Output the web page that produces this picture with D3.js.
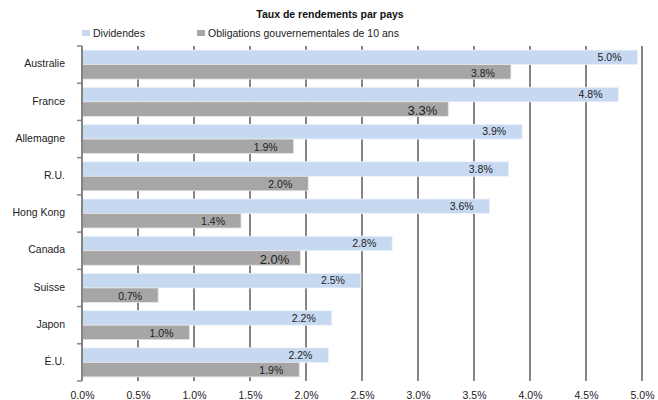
<!DOCTYPE html>
<html>
<head>
<meta charset="utf-8">
<script src="https://cdn.jsdelivr.net/npm/d3@7"></script>
<style>
  html, body { margin: 0; padding: 0; background: #fff; }
  svg { display: block; font-family: "Liberation Sans", Arial, sans-serif; }
</style>
</head>
<body>
<svg id="chart" width="658" height="400"></svg>
<script>
// Rendements (%) par pays
const countries = ["Australie", "France", "Allemagne", "R.U.", "Hong Kong", "Canada", "Suisse", "Japon", "É.U."];
const dividends = [4.96, 4.79, 3.93, 3.81, 3.64, 2.77, 2.49, 2.23, 2.20];
const bonds10y  = [3.83, 3.27, 1.89, 2.02, 1.42, 1.95, 0.68, 0.96, 1.94];
const dividendLabels = ["5.0%", "4.8%", "3.9%", "3.8%", "3.6%", "2.8%", "2.5%", "2.2%", "2.2%"];
const bondLabels     = ["3.8%", "3.3%", "1.9%", "2.0%", "1.4%", "2.0%", "0.7%", "1.0%", "1.9%"];
// Étiquettes affichées en plus grand
const bigBondLabels = ["France", "Canada"];
const seriesNames = ["Dividendes", "Obligations gouvernementales de 10 ans"];
const xTicks = [0, 0.5, 1, 1.5, 2, 2.5, 3, 3.5, 4, 4.5, 5];
const chartTitle = "Taux de rendements par pays";

const colors = { Dividendes: "#c6d9f1", Obligations: "#a6a6a6" };

const svg = d3.select("#chart");
const plot = { left: 82, right: 642, top: 46, bottom: 381 };

const x = d3.scaleLinear().domain([0, 5]).range([plot.left, plot.right]);
const y0 = d3.scaleBand().domain(countries).range([plot.top, plot.bottom])
  .paddingInner(0.22).paddingOuter(0.11);
const y1 = d3.scaleBand().domain(["div", "bond"]).range([0, y0.bandwidth()]);

const rows = countries.map((c, i) => ({
  country: c,
  div: dividends[i], bond: bonds10y[i],
  divLabel: dividendLabels[i], bondLabel: bondLabels[i]
}));

// Grille verticale
svg.append("g").selectAll("line").data(xTicks.filter(d => d > 0)).join("line")
  .attr("x1", d => x(d)).attr("x2", d => x(d))
  .attr("y1", plot.top).attr("y2", plot.bottom)
  .attr("stroke", "#858585").attr("stroke-width", 2);

// Barres
const groups = svg.append("g").selectAll("g").data(rows).join("g")
  .attr("transform", d => `translate(0,${y0(d.country)})`);

groups.append("rect")
  .attr("x", x(0)).attr("y", y1("div"))
  .attr("width", d => x(d.div) - x(0)).attr("height", y1.bandwidth())
  .attr("fill", colors.Dividendes).attr("stroke", "#eef3fa").attr("stroke-width", 0.8);

groups.append("rect")
  .attr("x", x(0)).attr("y", y1("bond"))
  .attr("width", d => x(d.bond) - x(0)).attr("height", y1.bandwidth())
  .attr("fill", colors.Obligations).attr("stroke", "#e6e6e6").attr("stroke-width", 0.8);

// Étiquettes de valeurs
groups.append("text")
  .attr("x", d => x(d.div) - 16)
  .attr("y", y1("div") + y1.bandwidth() / 2)
  .attr("dy", "0.35em").attr("text-anchor", "end")
  .attr("font-size", 10.5).attr("fill", "#222")
  .text(d => d.divLabel);

groups.append("text")
  .attr("x", d => x(d.bond) - (bigBondLabels.includes(d.country) ? 11 : 16))
  .attr("y", y1("bond") + y1.bandwidth() / 2 + 1)
  .attr("dy", "0.35em").attr("text-anchor", "end")
  .attr("font-size", d => bigBondLabels.includes(d.country) ? 13 : 10.5)
  .attr("fill", "#222")
  .text(d => d.bondLabel);

// Axe vertical
const yAxis = svg.append("g");
yAxis.append("line")
  .attr("x1", plot.left).attr("x2", plot.left)
  .attr("y1", plot.top).attr("y2", plot.bottom)
  .attr("stroke", "#858585").attr("stroke-width", 2);
const boundaries = d3.range(countries.length + 1).map(i => plot.top + i * y0.step());
yAxis.selectAll("line.tick").data(boundaries).join("line")
  .attr("class", "tick")
  .attr("x1", plot.left - 5).attr("x2", plot.left)
  .attr("y1", d => d).attr("y2", d => d)
  .attr("stroke", "#858585").attr("stroke-width", 1.5);
yAxis.selectAll("text").data(countries).join("text")
  .attr("x", 65)
  .attr("y", d => y0(d) + y0.bandwidth() / 2 - 1)
  .attr("dy", "0.35em").attr("text-anchor", "end")
  .attr("font-size", 10.5).attr("fill", "#222")
  .text(d => d);

// Axe horizontal
const xAxis = d3.axisBottom(x).tickValues(xTicks)
  .tickFormat(d => d.toFixed(1) + "%").tickSize(0).tickPadding(0);
svg.append("g").attr("transform", `translate(0,${plot.bottom + 14})`).call(xAxis)
  .call(g => g.select(".domain").remove())
  .call(g => g.selectAll("text").attr("font-size", 10.5).attr("fill", "#222")
    .attr("font-family", "'Liberation Sans', Arial, sans-serif").attr("dy", "0.35em").attr("y", 0));

// Titre
svg.append("text")
  .attr("x", 330).attr("y", 18)
  .attr("text-anchor", "middle").attr("font-size", 10.5).attr("font-weight", "bold")
  .attr("fill", "#111").text(chartTitle);

// Légende
const legendItems = [
  { name: seriesNames[0], color: colors.Dividendes, x: 82 },
  { name: seriesNames[1], color: colors.Obligations, x: 197 }
];
const legend = svg.append("g").selectAll("g").data(legendItems).join("g")
  .attr("transform", d => `translate(${d.x},0)`);
legend.append("rect").attr("x", 0).attr("y", 30).attr("width", 8).attr("height", 6)
  .attr("fill", d => d.color);
legend.append("text").attr("x", 11).attr("y", 37)
  .attr("font-size", 10.5).attr("fill", "#222").text(d => d.name);
</script>
</body>
</html>
